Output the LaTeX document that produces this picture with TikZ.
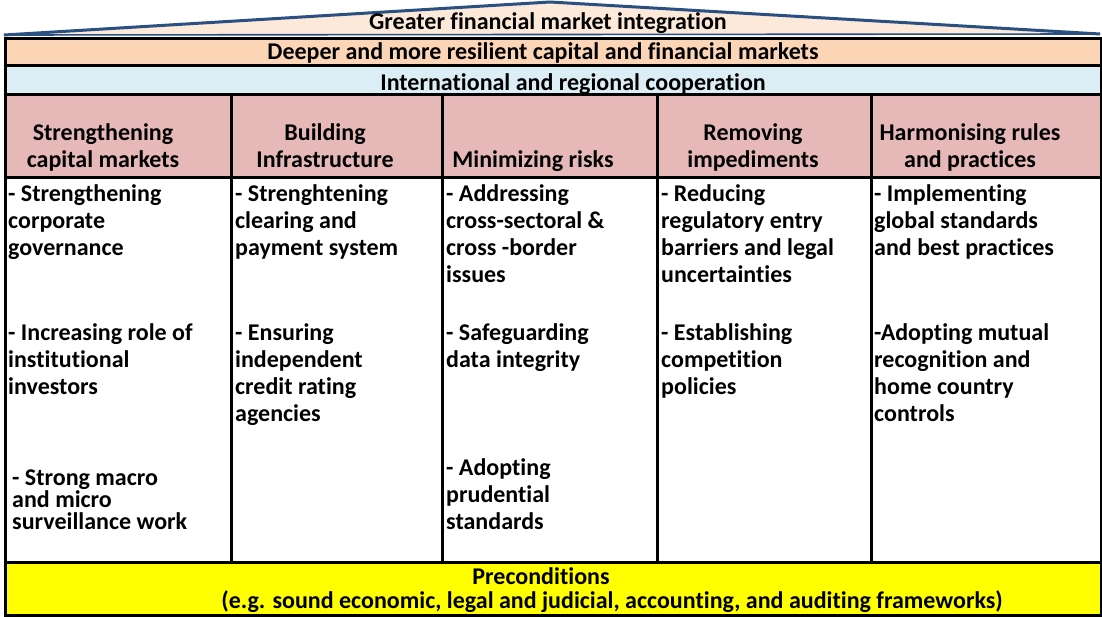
\documentclass[tikz,border=0pt]{standalone}
\usepackage{fontspec}
\setmainfont{Carlito}[Ligatures=NoCommon]
\definecolor{roofpeach}{HTML}{FDE9D9}
\definecolor{roofblue}{HTML}{2A5082}
\definecolor{bandorange}{HTML}{FBD5B5}
\definecolor{bandblue}{HTML}{DCEEF5}
\definecolor{headpink}{HTML}{E6B9B8}
\definecolor{baseyellow}{HTML}{FFFF00}
\begin{document}
\begin{tikzpicture}[x=1pt,y=-1pt,
  cell/.style={draw=black, line width=2.8pt, inner sep=0pt, anchor=north west},
  txt/.style={font=\bfseries\fontsize{24}{27}\selectfont, inner sep=0pt},
  item/.style={txt, anchor=north west, align=left, text depth=0pt},
  head/.style={txt, anchor=base, align=center},
  title/.style={txt, anchor=base}]
\useasboundingbox (0,0) rectangle (1102,617);

% roof
\coordinate (roofL) at (4,35);
\coordinate (roofT) at (550,2);
\coordinate (roofR) at (1100,34);
\fill[roofpeach] (roofL) -- (roofT) -- (roofR) -- cycle;
\draw[roofblue, line width=3pt, line join=round] (roofL) -- (roofT) -- (roofR);
\draw[roofblue, line width=1.6pt] (roofL) -- (roofR);

% horizontal bands
\node[cell, fill=bandorange, minimum width=1096pt, minimum height=27pt] (deeper) at (4,37) {};
\node[cell, fill=bandblue, minimum width=1096pt, minimum height=29pt] (coop) at (4,64) {};
\node[cell, fill=baseyellow, minimum width=1096pt, minimum height=53pt] (precond) at (4,561) {};

% header cells and body cells of the five pillars
\foreach \n/\xa/\xb in {1/4/230, 2/230/441, 3/441/656, 4/656/870, 5/870/1100}{
  \node[cell, fill=headpink, minimum width={(\xb-\xa)*1pt}, minimum height=83pt] (h\n) at (\xa,93) {};
  \node[cell, fill=white, minimum width={(\xb-\xa)*1pt}, minimum height=385pt] (b\n) at (\xa,176) {};
}

% band titles
\node[title] (tgreater) at (548,30) {Greater financial market integration};
\node[title] (tdeeper) at (543,60) {Deeper and more resilient capital and financial markets};
\node[title] (tcoop) at (573,91) {International and regional cooperation};
\node[title] (tpre1) at (541,584) {Preconditions};
\node[title] (tpre2) at (612,608) {(e.g. sound economic, legal and judicial, accounting, and auditing frameworks)};

% pillar headings
\node[head] (th1) at (103,168) {Strengthening\\capital markets};
\node[head] (th2) at (325,168) {Building\\Infrastructure};
\node[head] (th3) at (533,168) {Minimizing risks};
\node[head] (th4) at (753,168) {Removing\\impediments};
\node[head] (th5) at (970,168) {Harmonising rules\\and practices};

% pillar contents
\node[item] (i11) at (8,184) {- Strengthening\\corporate\\governance};
\node[item] (i12) at (8,323) {- Increasing role of\\institutional\\investors};
\node[item, font=\bfseries\fontsize{24}{22}\selectfont] (i13) at (12,470) {- Strong macro\\and micro\\surveillance work};

\node[item] (i21) at (235,184) {- Strenghtening\\clearing and\\payment system};
\node[item] (i22) at (235,323) {- Ensuring\\independent\\credit rating\\agencies};

\node[item] (i31) at (446,184) {- Addressing\\cross-sectoral \&\\cross -border\\issues};
\node[item] (i32) at (446,323) {- Safeguarding\\data integrity};
\node[item] (i33) at (446,458) {- Adopting\\prudential\\standards};

\node[item] (i41) at (661,184) {- Reducing\\regulatory entry\\barriers and legal\\uncertainties};
\node[item] (i42) at (661,323) {- Establishing\\competition\\policies};

\node[item] (i51) at (874,184) {- Implementing\\global standards\\and best practices};
\node[item] (i52) at (874,323) {-Adopting mutual\\recognition and\\home country\\controls};
\end{tikzpicture}
\end{document}
